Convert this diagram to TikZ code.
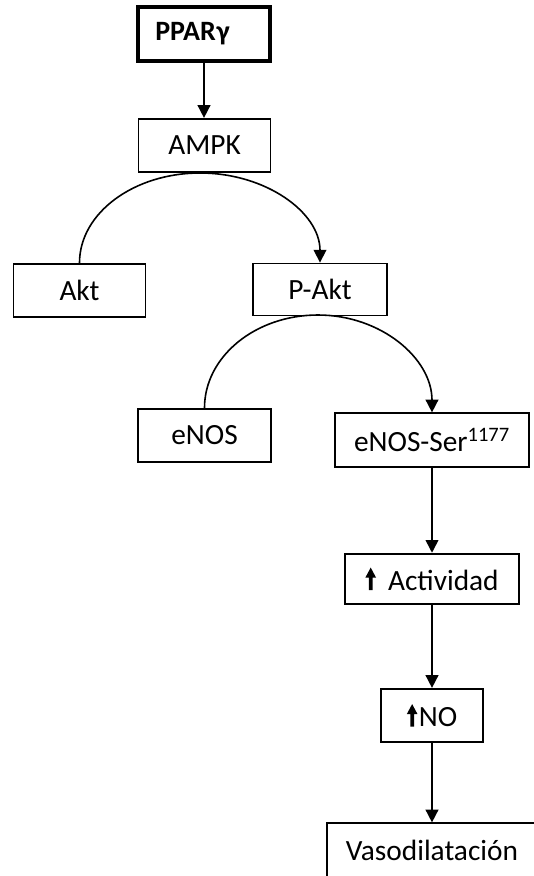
\documentclass[tikz,border=0pt]{standalone}
\usepackage{fontspec}
\setmainfont{Carlito}
\usetikzlibrary{arrows.meta}
\newcommand\thickup{\tikz[baseline=0pt,x=1pt,y=1pt]{\fill (-1.4,0) rectangle (1.4,10) (-4,9.5) -- (0,17) -- (4,9.5) -- cycle;}}
\tikzset{
  box/.style={draw, line width=1.4pt, inner sep=0pt, font=\fontsize{22}{26}\selectfont},
  arr/.style={line width=1.2pt, -{Triangle[length=9.5pt,width=9.5pt]}},
}
\begin{document}
\begin{tikzpicture}[x=0.75pt,y=-0.75pt]
\useasboundingbox (0,0) rectangle (533,876);
\node[box, line width=3pt, minimum width=99pt, minimum height=40pt, text width=73pt, inner xsep=13pt, align=left, font=\fontsize{21}{25}\selectfont\bfseries] (ppar) at (204,34) {PPAR\kern0.5pt γ};
\node[box, minimum width=99pt, minimum height=40pt] (ampk) at (204.5,145.5) {AMPK};
\node[box, minimum width=99pt, minimum height=40pt] (akt) at (79.5,290.5) {Akt};
\node[box, minimum width=100pt, minimum height=39pt] (pakt) at (320,289.5) {P-Akt};
\node[box, minimum width=100pt, minimum height=40pt] (enos) at (204.5,435.5) {eNOS};
\node[box, minimum width=145pt, minimum height=40pt] (enosser) at (432,440) {eNOS-Ser\textsuperscript{1177}};
\node[box, minimum width=131pt, minimum height=38pt] (activ) at (432,579) {\thickup\hspace{9pt}Actividad};
\node[box, minimum width=76pt, minimum height=40pt] (no) at (432,715.5) {\thickup\hspace{1pt}NO};
\node[box, minimum width=157pt, minimum height=40pt] (vaso) at (432,850) {Vasodilatación};
\coordinate (peak1) at (200,173);
\coordinate (peak2) at (318,315);
\draw[arr] (ppar.south) -- (ppar.south |- ampk.north);
\draw[arr] (akt.north) .. controls +(0,-50) and +(-66,0) .. (peak1) .. controls +(66,0) and +(0,-50) .. (pakt.north);
\draw[arr] (enos.north) .. controls +(0,-51) and +(-63,0) .. (peak2) .. controls +(63,0) and +(0,-54) .. (enosser.north);
\draw[arr] (enosser.south) -- (enosser.south |- activ.north);
\draw[arr] (activ.south) -- (activ.south |- no.north);
\draw[arr] (no.south) -- (no.south |- vaso.north);
\end{tikzpicture}
\end{document}
